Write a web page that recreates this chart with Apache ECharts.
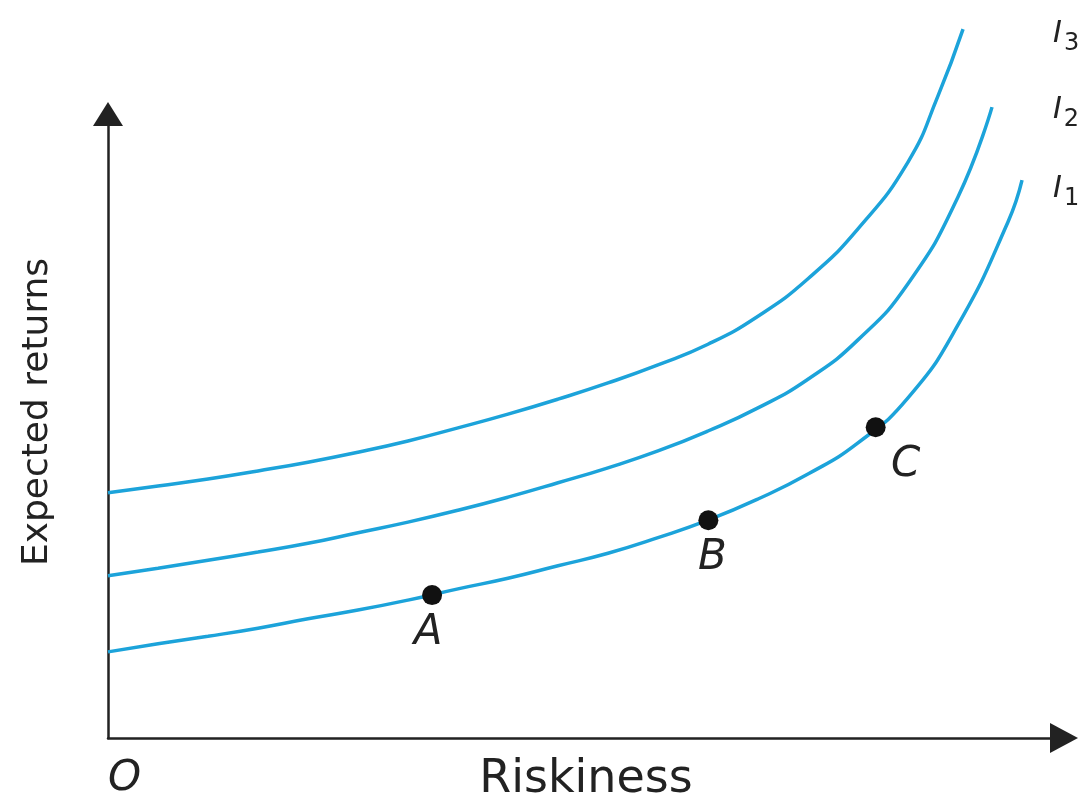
<!DOCTYPE html>
<html>
<head>
<meta charset="utf-8">
<script src="https://cdn.jsdelivr.net/npm/echarts@6/dist/echarts.min.js"></script>
<style>
  html, body { margin: 0; padding: 0; background: #fff; }
  #chart { width: 1083px; height: 799px; }
</style>
</head>
<body>
<div id="chart"></div>
<script>
// indifference curves, riskiness (x) vs expected returns (y), both 0..100
const i1X = [0, 5.23, 10.46, 15.69, 20.92, 26.15, 31.38, 36.61, 41.84, 47.07, 52.3, 57.53, 62.76, 67.99, 73.22, 78.45, 83.68, 88.91, 94.14, 95.61];
const i1Y = [13.8, 15.1, 16.3, 17.6, 19.1, 20.5, 22.1, 23.9, 25.6, 27.6, 29.6, 32.1, 34.9, 38.3, 42.3, 47.3, 54.5, 66.2, 82.7, 89.4];

const i2X = [0, 5.23, 10.46, 15.69, 20.92, 26.15, 31.38, 36.61, 41.84, 47.07, 52.3, 57.53, 62.76, 67.99, 73.22, 78.45, 83.68, 88.91, 92.47];
const i2Y = [26.0, 27.2, 28.5, 29.8, 31.2, 32.9, 34.6, 36.5, 38.6, 40.9, 43.3, 46.0, 49.2, 52.9, 57.5, 63.8, 72.8, 86.7, 101.1];

const i3X = [0, 5.23, 10.46, 15.69, 20.92, 26.15, 31.38, 36.61, 41.84, 47.07, 52.3, 57.53, 62.76, 67.99, 73.22, 78.45, 83.68, 86.82, 89.44];
const i3Y = [39.3, 40.4, 41.5, 42.8, 44.2, 45.8, 47.6, 49.7, 51.9, 54.3, 56.9, 59.8, 63.1, 67.6, 73.6, 81.6, 92.3, 102.9, 113.6];

const pointNames = ['A', 'B', 'C'];
const pointX = [33.9, 62.8, 80.3];
const pointY = [22.9, 34.9, 49.8];

const curveNames = ['1', '2', '3'];

const FONT = 'DejaVu Sans';
const BLUE = '#1ca3da';
const AXIS = '#222';

const zip = (xs, ys) => xs.map((x, i) => [x, ys[i]]);

const chart = echarts.init(document.getElementById('chart'));

const curve = (idx, xs, ys, labelOffset) => ({
    type: 'line',
    data: zip(xs, ys),
    smooth: 0.5,
    showSymbol: false,
    clip: false,
    lineStyle: { color: BLUE, width: 3.5 },
    endLabel: {
        show: true,
        distance: 0,
        offset: labelOffset,
        formatter: '{i|I}{s|' + curveNames[idx] + '}',
        rich: {
            i: { fontFamily: FONT, fontStyle: 'italic', fontSize: 30, color: '#222' },
            s: { fontFamily: FONT, fontSize: 24, color: '#222', padding: [20, 0, 0, 2] }
        }
    },
    z: 2
});

const labelOffsets = [[-4, 38], [4, 38], [30, 38]];

chart.setOption({
    animation: false,
    grid: { left: 108, right: 19, top: 114, bottom: 61, outerBoundsMode: 'none', containLabel: false },
    xAxis: {
        type: 'value',
        min: 0,
        max: 100,
        name: 'Riskiness',
        nameLocation: 'middle',
        nameGap: 19,
        nameMoveOverlap: false,
        nameTextStyle: { fontFamily: FONT, fontSize: 46, color: '#222', verticalAlign: 'top' },
        axisLine: {
            show: true,
            symbol: ['none', 'triangle'],
            symbolSize: [30, 28],
            lineStyle: { color: AXIS, width: 2.5 }
        },
        axisTick: { show: false },
        splitLine: { show: false },
        axisLabel: {
            showMaxLabel: false,
            margin: 20,
            align: 'left',
            fontFamily: FONT,
            fontStyle: 'italic',
            fontSize: 42,
            color: '#222',
            formatter: (v) => (v === 0 ? 'O' : '')
        }
    },
    yAxis: {
        type: 'value',
        min: 0,
        max: 100,
        name: 'Expected returns',
        nameLocation: 'middle',
        nameGap: 52,
        nameMoveOverlap: false,
        nameTextStyle: { fontFamily: FONT, fontSize: 36, color: '#222', padding: [0, 0, 0, 28] },
        axisLine: {
            show: true,
            symbol: ['none', 'triangle'],
            symbolSize: [30, 24],
            lineStyle: { color: AXIS, width: 2.5 }
        },
        axisTick: { show: false },
        axisLabel: { show: false },
        splitLine: { show: false }
    },
    series: [
        curve(0, i1X, i1Y, [31, 9]),
        curve(1, i2X, i2Y, [61, 3]),
        curve(2, i3X, i3Y, [90, 5]),
        {
            type: 'scatter',
            symbolSize: 20,
            itemStyle: { color: '#111', opacity: 1 },
            z: 3,
            data: pointNames.map((n, i) => ({
                value: [pointX[i], pointY[i]],
                name: n,
                label: {
                    show: true,
                    position: 'inside',
                    offset: labelOffsets[i],
                    formatter: '{b}',
                    fontFamily: FONT,
                    fontStyle: 'italic',
                    fontSize: 42,
                    color: '#222'
                }
            }))
        }
    ]
});
</script>
</body>
</html>
